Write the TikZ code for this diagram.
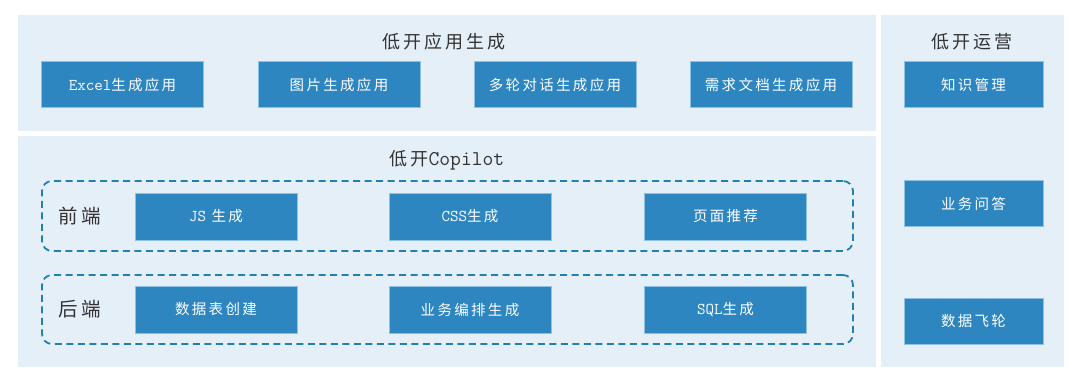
\documentclass[tikz,border=0pt]{standalone}
\usepackage{fontspec}
\setmainfont[LetterSpace=16]{Noto Sans CJK SC}
\newcommand{\lat}{\ttfamily}
\newcommand{\blat}{\ttfamily\fontsize{16.5}{17}\selectfont}
\definecolor{panelbg}{HTML}{E5EFF7}
\definecolor{btn}{HTML}{2E86C1}
\definecolor{btnedge}{HTML}{8CC0E4}
\definecolor{dash}{HTML}{2180B0}
\definecolor{ttl}{HTML}{333333}
\begin{document}
\begin{tikzpicture}[x=1pt,y=-1pt,
  panel/.style={fill=panelbg,draw=none,inner sep=0pt,outer sep=0pt},
  btnbox/.style={fill=btn,draw=btnedge,line width=0.8pt,text=white,inner sep=0pt,
     minimum width=162pt,minimum height=46pt,font=\fontsize{14.5}{16}\selectfont},
  sidebtn/.style={btnbox,minimum width=139pt},
  title/.style={text=ttl,font=\fontsize{18}{20}\selectfont,inner sep=0pt},
  rowlbl/.style={text=ttl,font=\fontsize{19.5}{21}\selectfont,inner sep=0pt},
  group/.style={draw=dash,dash pattern=on 7pt off 4.5pt,line width=1.8pt,rounded corners=10pt,
     inner sep=0pt,minimum width=811pt}
]
\useasboundingbox (0,0) rectangle (1080,382);
\fill[white] (0,0) rectangle (1080,382);
% panels
\node[panel,minimum width=858pt,minimum height=116pt] (ptop) at (447,73) {};
\node[panel,minimum width=858pt,minimum height=231pt] (pcop) at (447,251.5) {};
\node[panel,minimum width=183pt,minimum height=352pt] (pops) at (972.5,191) {};
% titles
\node[title] (ttop) at (444,42) {低开应用生成};
\node[title] (tops) at (972,42) {低开运营};
\node[title] (tcop) at (447,160) {低开{\lat\fontsize{21}{22}\selectfont Copilot}};
% top row
\node[btnbox] (b1) at (122.5,84.5) {{\blat Excel}生成应用};
\node[btnbox] (b2) at (339,84.5) {图片生成应用};
\node[btnbox] (b3) at (555,84.5) {多轮对话生成应用};
\node[btnbox] (b4) at (771,84.5) {需求文档生成应用};
% side buttons
\node[sidebtn] (s1) at (973.5,84.5) {知识管理};
\node[sidebtn] (s2) at (973.5,203.5) {业务问答};
\node[sidebtn] (s3) at (973.5,321) {数据飞轮};
% groups
\node[group,minimum height=70pt] (gfe) at (447.5,216) {};
\node[group,minimum height=69pt] (gbe) at (447.5,309.5) {};
\node[rowlbl] (lfe) at (80,216) {前端};
\node[rowlbl] (lbe) at (80,309) {后端};
% front-end buttons
\node[btnbox,minimum height=47pt] (f1) at (216,216.5) {{\blat JS} 生成};
\node[btnbox,minimum height=47pt] (f2) at (470,216.5) {{\blat CSS}生成};
\node[btnbox,minimum height=47pt] (f3) at (725.5,216.5) {页面推荐};
% back-end buttons
\node[btnbox,minimum height=47pt] (k1) at (216,309.5) {数据表创建};
\node[btnbox,minimum height=47pt] (k2) at (470,309.5) {业务编排生成};
\node[btnbox,minimum height=47pt] (k3) at (725.5,309.5) {{\blat SQL}生成};
\end{tikzpicture}
\end{document}
